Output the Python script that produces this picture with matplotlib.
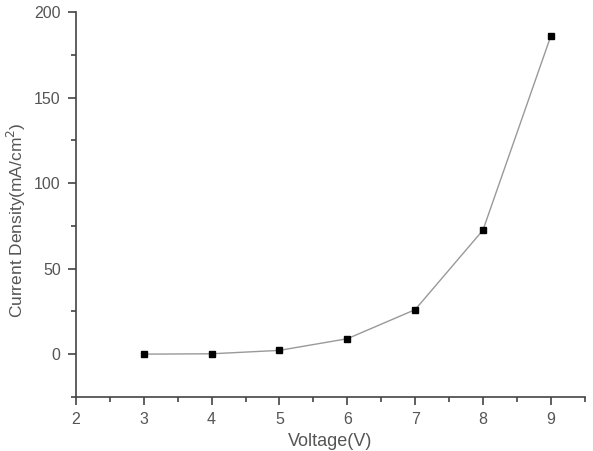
import matplotlib
matplotlib.use("Agg")
import matplotlib.pyplot as plt
from matplotlib.ticker import MultipleLocator

voltage = [3, 4, 5, 6, 7, 8, 9]
current_density = [0.0, 0.2, 2.2, 9.0, 26.0, 72.5, 186.0]

plt.rcParams["font.family"] = ["Liberation Sans", "DejaVu Sans"]

fig = plt.figure(figsize=(5.93, 4.51), dpi=100)
ax = fig.add_axes([0.128, 0.12, 0.858, 0.853])

ax.plot(voltage, current_density, color="#999999", linewidth=1.0,
        marker="s", markersize=4.5, markerfacecolor="black", markeredgecolor="black")

ax.set_xlim(2, 9.5)
ax.set_ylim(-25, 200)
ax.xaxis.set_major_locator(MultipleLocator(1))
ax.xaxis.set_minor_locator(MultipleLocator(0.5))
ax.yaxis.set_major_locator(MultipleLocator(50))
ax.yaxis.set_minor_locator(MultipleLocator(25))

for side in ("top", "right"):
    ax.spines[side].set_visible(False)
for side in ("left", "bottom"):
    ax.spines[side].set_color("#444444")
    ax.spines[side].set_linewidth(1.2)

ax.tick_params(which="major", direction="out", length=6, width=1.2, colors="#444444",
               labelsize=11.5, labelcolor="#555555", pad=5)
ax.tick_params(which="minor", direction="out", length=3.5, width=1.2, colors="#444444")

ax.set_xlabel("Voltage(V)", fontsize=13, color="#555555", labelpad=4)
ax.set_ylabel("Current Density(mA/cm$^2$)", fontsize=12.5, color="#555555")
ax.yaxis.set_label_coords(-0.095, 0.46)

fig.savefig("out.png", dpi=100)
plt.close(fig)
